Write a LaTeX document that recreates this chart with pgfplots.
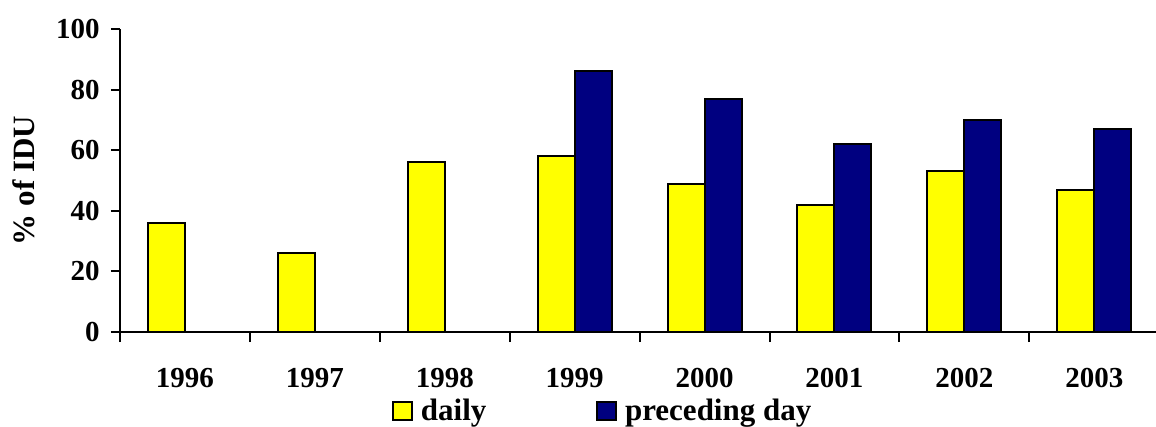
\documentclass[border=0pt]{standalone}
\usepackage{fontspec}
\setmainfont{Liberation Serif}
\usepackage{pgfplots}
\pgfplotsset{compat=1.18}
\definecolor{dailyyellow}{HTML}{FFFF00}
\definecolor{prevnavy}{HTML}{000080}

\pgfplotsset{
  sqlegend/.style={
    legend image code/.code={%
      \draw[##1, line width=0.8pt] (0pt,-4.5pt) rectangle (9.5pt,4.5pt);}
  }
}

\begin{document}
\begin{tikzpicture}
\begin{axis}[
  at={(0,0)}, anchor=south west,
  scale only axis, width=518pt, height=151.5pt,
  font=\bfseries\fontsize{14.5}{17}\selectfont,
  /pgf/number format/assume math mode=true,
  xmin=-0.5, xmax=7.475, ymin=0, ymax=100,
  axis x line*=bottom, axis y line*=left,
  axis line style={line width=1pt, black},
  tick align=outside,
  tick style={line width=1pt, black},
  xtick={0,...,7},
  xticklabels={1996,1997,1998,1999,2000,2001,2002,2003},
  major x tick style={draw=none},
  minor xtick={-0.5,0.5,...,6.5},
  minor tick length=5pt,
  major tick length=4.5pt,
  ytick={0,20,...,100},
  xticklabel style={anchor=base, yshift=-23pt},
  yticklabel style={anchor=east, xshift=-2.2pt},
  ylabel={\% of IDU},
  ylabel style={at={(axis description cs:-0.0927,0.5)}, anchor=center,
    font=\bfseries\fontsize{15.5}{18}\selectfont},
  ybar=0pt, bar width=18.5pt,
  legend columns=2,
  legend style={at={(axis description cs:0.2625,-0.26)}, anchor=west,
    draw=none, fill=none, inner sep=0pt,
    font=\bfseries\fontsize{15.5}{18}\selectfont,
    /tikz/every odd column/.append style={column sep=2pt},
    /tikz/every even column/.append style={column sep=53pt}},
]
\addplot[fill=dailyyellow, draw=black, line width=1pt, sqlegend]
  coordinates {(0,36) (1,26) (2,56) (3,58) (4,49) (5,42) (6,53) (7,47)};
\addlegendentry{daily}
\addplot[fill=prevnavy, draw=black, line width=1pt, sqlegend]
  coordinates {(3,86) (4,77) (5,62) (6,70) (7,67)};
\addlegendentry{preceding day}
\end{axis}
\pgfresetboundingbox
\useasboundingbox (-60pt,-47.5pt) rectangle (518pt,166pt);
\end{tikzpicture}
\end{document}
